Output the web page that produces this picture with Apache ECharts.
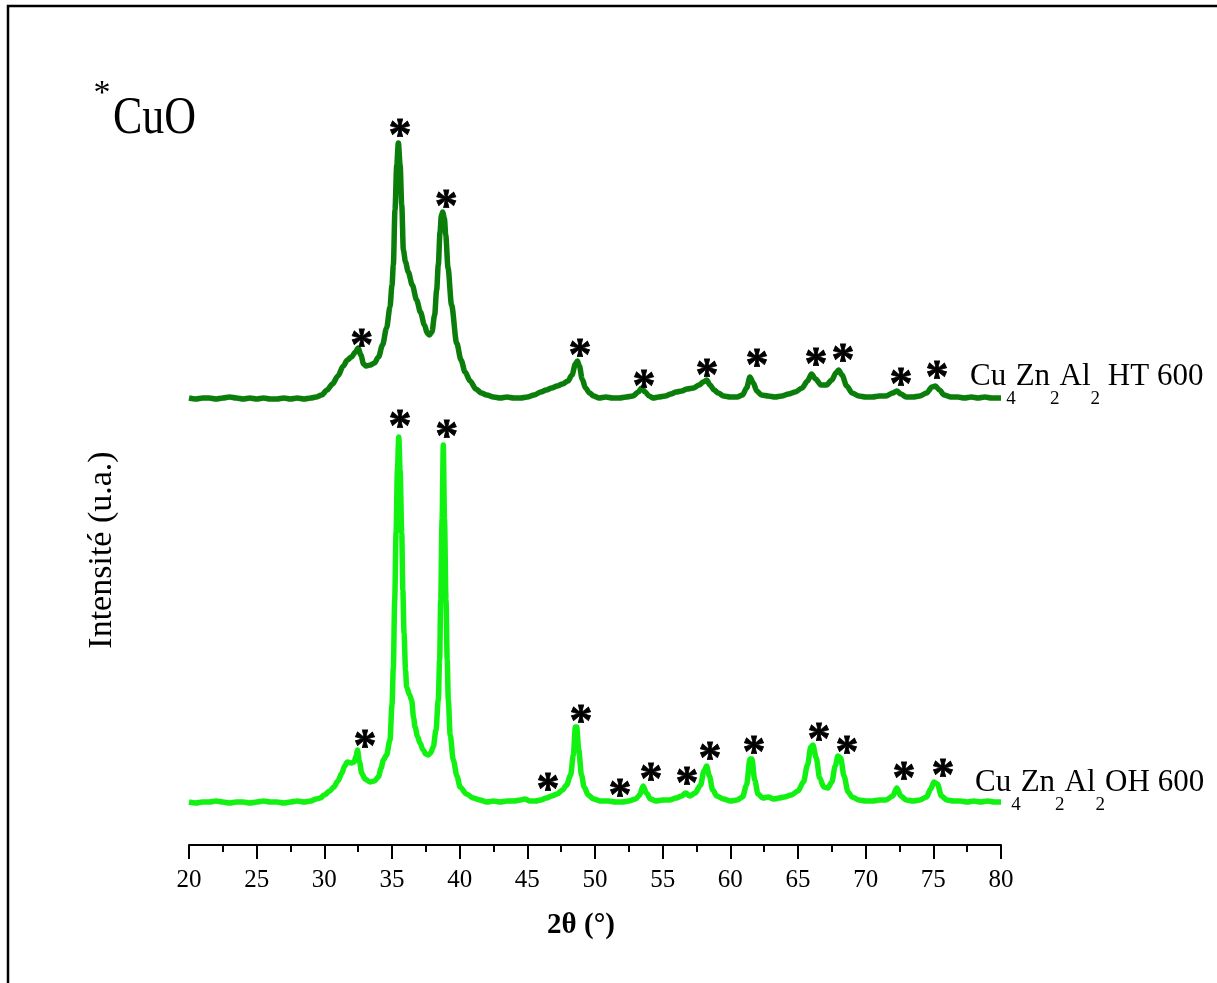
<!DOCTYPE html>
<html>
<head>
<meta charset="utf-8">
<script src="https://cdn.jsdelivr.net/npm/echarts@6/dist/echarts.min.js"></script>
<style>
html,body{margin:0;padding:0;background:#fff;}
#chart{width:1217px;height:983px;}
</style>
</head>
<body>
<div id="chart"></div>
<script>
// X-ray diffraction patterns: [2θ (°), intensity (a.u., offset-stacked)]
const patternHT600 = [
[20,447],[20.5,446],[21,447],[21.5,447],[22,446],[22.5,447],[23,448],[23.5,447],[24,446],[24.5,447],
[25,446],[25.5,447],[26,446],[26.5,446],[27,447],[27.5,446],[28,447],[28.5,446],[29,447],[29.4,448],
[29.8,450],[30.2,455],[30.6,461],[31,469],[31.4,479],[31.7,485],[32,488],[32.3,493],[32.5,497],[32.7,490],
[32.9,481],[33.1,479],[33.4,480],[33.7,482],[34,488],[34.3,500],[34.6,517],[34.85,538],[35,560],[35.1,580],
[35.22,635],[35.35,680],[35.47,702],[35.6,680],[35.72,640],[35.84,595],[36,583],[36.2,573],[36.5,560],[36.82,545],
[37.1,533],[37.4,520],[37.6,512],[37.76,510],[37.95,513],[38.15,530],[38.3,555],[38.42,580],[38.55,613],[38.65,630],
[38.75,633],[38.87,627],[38.97,610],[39.14,577],[39.4,540],[39.78,502],[40.1,485],[40.4,473],[40.77,464],[41.2,456],
[41.6,452],[42,450],[42.5,448],[43,447],[43.5,448],[44,447],[44.5,447],[45,448],[45.5,450],[46,453],
[46.4,455],[46.8,457],[47.2,459],[47.6,461],[48,464],[48.3,470],[48.55,481],[48.7,484],[48.85,479],[49.05,466],
[49.3,457],[49.6,452],[49.9,449],[50.3,447],[50.8,448],[51.3,447],[51.8,447],[52.3,448],[52.8,449],[53.2,453],
[53.45,457],[53.7,453],[54,449],[54.3,447],[54.7,448],[55.2,449],[55.6,451],[56,453],[56.4,454],[56.8,456],
[57.27,457],[57.7,460],[58,463],[58.25,465],[58.5,460],[58.8,455],[59.1,452],[59.5,449],[60,448],[60.5,448],
[60.9,450],[61.2,457],[61.45,468],[61.7,462],[61.95,454],[62.3,450],[62.8,449],[63.3,448],[63.8,449],[64.3,451],
[64.8,453],[65.3,457],[65.7,464],[66,471],[66.3,466],[66.7,460],[67.1,460],[67.5,465],[67.8,472],[68,475],
[68.25,470],[68.6,459],[69,452],[69.5,449],[70,448],[70.5,448],[71,449],[71.5,449],[72,452],[72.3,454],
[72.6,451],[73,448],[73.5,448],[74,449],[74.5,452],[74.9,458],[75.15,459],[75.45,455],[75.8,450],[76.3,448],
[76.8,448],[77.3,447],[77.8,448],[78.3,447],[78.8,448],[79.3,447],[80,447]
];
const patternOH600 = [
[20,43],[20.5,42],[21,43],[21.5,43],[22,44],[22.5,43],[23,42],[23.5,43],[24,43],[24.5,42],
[25,43],[25.5,44],[26,43],[26.5,43],[27,42],[27.5,43],[28,44],[28.5,43],[29,44],[29.4,46],
[29.7,47],[30,50],[30.4,54],[30.7,58],[31,64],[31.3,72],[31.5,79],[31.7,83],[32,82],[32.2,83],
[32.35,89],[32.45,95],[32.6,83],[32.76,72],[33,66],[33.37,63],[33.7,64],[33.99,68],[34.2,77],[34.36,85],
[34.6,90],[34.85,105],[35,140],[35.1,178],[35.2,245],[35.3,312],[35.4,375],[35.5,408],[35.6,375],[35.72,312],
[35.8,255],[35.89,212],[36,175],[36.08,158],[36.3,150],[36.45,145],[36.6,127],[36.7,118],[36.9,108],[37.07,102],
[37.3,95],[37.5,91],[37.68,90],[37.85,92],[38.05,98],[38.25,115],[38.42,145],[38.52,185],[38.6,245],[38.7,325],
[38.79,400],[38.88,325],[38.99,245],[39.08,185],[39.16,145],[39.3,110],[39.53,85],[39.8,69],[40.03,58],[40.5,51],
[41,47],[41.5,45],[42,43],[42.5,44],[43,43],[43.5,44],[44,44],[44.5,45],[44.8,46],[45.2,44],
[45.6,44],[46,45],[46.4,47],[46.8,49],[47.2,51],[47.6,55],[47.9,60],[48.2,70],[48.4,90],[48.55,118],
[48.65,118],[48.8,95],[49,70],[49.2,58],[49.5,50],[49.9,46],[50.4,44],[51,44],[51.5,43],[52,43],
[52.5,44],[53,46],[53.3,50],[53.55,59],[53.8,52],[54.1,46],[54.5,44],[55,45],[55.5,45],[56,47],
[56.4,49],[56.7,52],[57,49],[57.4,52],[57.8,60],[58.05,74],[58.25,79],[58.45,69],[58.7,55],[59,49],
[59.5,46],[60,44],[60.5,45],[60.9,48],[61.2,60],[61.45,86],[61.6,86],[61.8,65],[62.05,51],[62.4,47],
[62.8,48],[63.2,46],[63.6,47],[64,48],[64.5,50],[65,54],[65.4,63],[65.7,80],[65.95,98],[66.1,100],
[66.35,87],[66.6,67],[66.9,58],[67.2,57],[67.5,63],[67.75,79],[67.95,89],[68.15,87],[68.4,69],[68.7,53],
[69,48],[69.5,45],[70,44],[70.5,44],[71,45],[71.5,45],[72,49],[72.3,57],[72.6,49],[73,45],
[73.5,44],[74,45],[74.5,48],[74.8,56],[75.05,63],[75.3,61],[75.6,49],[76,45],[76.5,44],[77,44],
[77.5,43],[78,44],[78.5,43],[79,44],[79.5,43],[80,43]
];
// CuO reflection markers (*) : [2θ, intensity position]
const cuoMarksHT600 = [
[32.76,508],[35.6,718],[39.0,647],[48.9,498],[53.62,467],[58.28,478],
[61.97,488],[66.33,489],[68.33,493],[72.61,469],[75.27,476]
];
const cuoMarksOH600 = [
[33.0,107],[35.6,427],[39.04,417],[46.53,64],[48.97,132],[51.85,58],[54.14,74],
[56.8,70],[58.5,95],[61.75,101],[66.55,114],[68.62,101],[72.83,75],[75.72,78]
];
const xTicks = {min:20, max:80, interval:5};
const labelHT = '{m|Cu}{s|4}{m|Zn}{s|2}{m|Al}{s|2}{m| HT 600}';
const labelOH = '{m|Cu}{s|4}{m|Zn}{s|2}{m|Al}{s|2}{m|OH 600}';
const yTitle = 'Intensité (u.a.)';
const xTitle = '2θ (°)';

const chart = echarts.init(document.getElementById('chart'), null, {renderer:'canvas'});
const serif = '"Liberation Serif", "Times New Roman", serif';
const richSub = {
  m:{fontFamily:serif, fontSize:31, verticalAlign:'top', lineHeight:48, color:'#000'},
  s:{fontFamily:serif, fontSize:19, verticalAlign:'bottom', lineHeight:48, color:'#000'}
};
const markLabel = {
  show:true, formatter:'{a|*}', position:'inside', color:'#000', opacity:1,
  rich:{a:{fontFamily:serif, fontWeight:'bold', fontSize:46, color:'#000'}},
  fontFamily:serif, fontWeight:'bold', fontSize:46, offset:[0,11],
  textBorderColor:'#000', textBorderWidth:0.8
};
chart.setOption({
  animation:false,
  backgroundColor:'#fff',
  grid:{left:189, right:216, top:45, bottom:138},
  xAxis:{
    type:'value', min:xTicks.min, max:xTicks.max, interval:xTicks.interval,
    name:xTitle, nameLocation:'middle', nameGap:66,
    nameTextStyle:{fontFamily:serif, fontSize:29, fontWeight:'bold', color:'#000', padding:[0,28,0,0]},
    axisLine:{show:true, onZero:false, lineStyle:{color:'#000', width:2}},
    axisTick:{show:true, inside:false, length:14, lineStyle:{color:'#000', width:2}},
    minorTick:{show:true, splitNumber:2, length:7, lineStyle:{color:'#000', width:2}},
    splitLine:{show:false},
    axisLabel:{fontFamily:serif, fontSize:25, color:'#000', margin:23}
  },
  yAxis:{type:'value', min:0, max:800, show:false},
  series:[
    {type:'line', name:'Cu4Zn2Al2 HT 600', data:patternHT600, showSymbol:false, symbol:'none',
     smooth:0.3, smoothMonotone:'x', lineStyle:{color:'#0a7d0a', width:5.5}, itemStyle:{color:'#0a7d0a'}},
    {type:'line', name:'Cu4Zn2Al2OH 600', data:patternOH600, showSymbol:false, symbol:'none',
     smooth:0.3, smoothMonotone:'x', lineStyle:{color:'#12f212', width:5.5}, itemStyle:{color:'#12f212'}},
    {type:'scatter', data:cuoMarksHT600, symbolSize:1, itemStyle:{color:'#000', opacity:0}, label:markLabel, z:5},
    {type:'scatter', data:cuoMarksOH600, symbolSize:1, itemStyle:{color:'#000', opacity:0}, label:markLabel, z:5}
  ],
  graphic:[
    {type:'polyline', shape:{points:[[8,983],[8,6],[1217,6]]}, style:{stroke:'#000', lineWidth:2.5, fill:null}, silent:true},
    {type:'text', x:102, y:94, style:{text:'*', font:'34px "Liberation Serif"', fill:'#000', textAlign:'center', textVerticalAlign:'middle'}},
    {type:'text', x:113, y:119, scaleY:1.2, style:{text:'CuO', font:'44px "Liberation Serif"', fill:'#000', textAlign:'left', textVerticalAlign:'middle'}},
    {type:'text', x:970, y:361, style:{text:labelHT, rich:richSub, fill:'#000'}},
    {type:'text', x:975, y:767, style:{text:labelOH, rich:richSub, fill:'#000'}},
    {type:'text', x:102, y:550, rotation:Math.PI/2, style:{text:yTitle, font:'34px "Liberation Serif"', fill:'#000', textAlign:'center', textVerticalAlign:'middle'}}
  ]
});
</script>
</body>
</html>
